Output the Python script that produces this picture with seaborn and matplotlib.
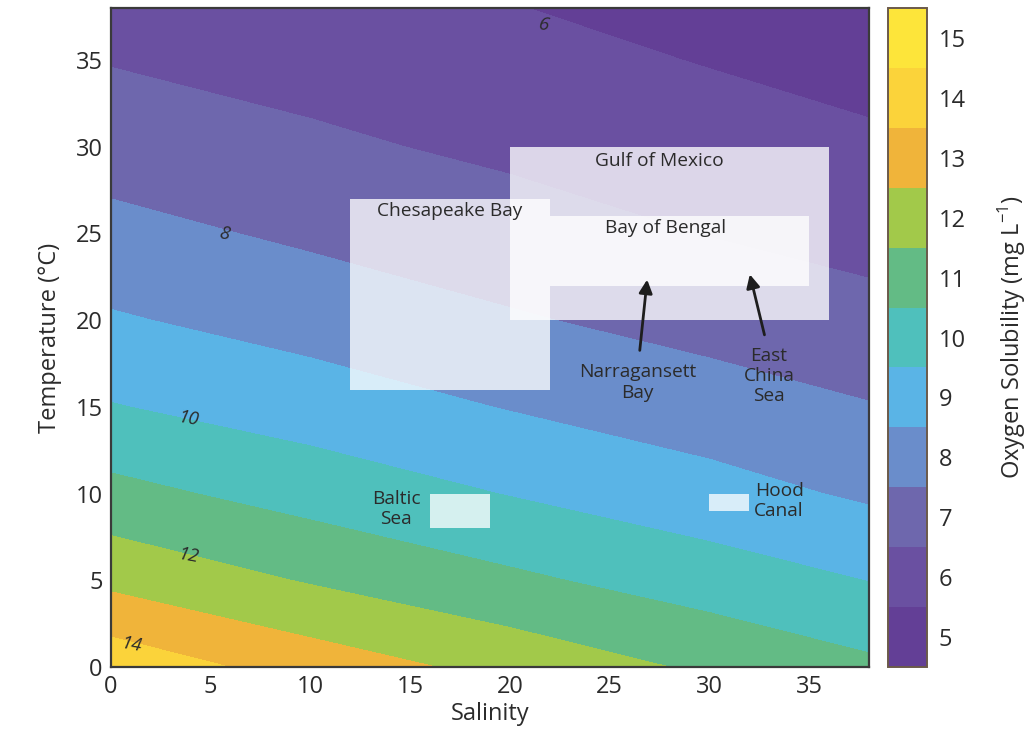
"""
Oxygen solubility vs salinity and temperature, with estuary / sea ranges.
"""
import numpy as np
import matplotlib
matplotlib.use('Agg')
import matplotlib.pyplot as plt
from matplotlib.colors import ListedColormap, BoundaryNorm
from matplotlib.patches import Rectangle
import seaborn as sns

# grid (mg/L)
salinity = [0, 10, 20, 30, 38]
temperature = [0, 5, 10, 15, 20, 25, 30, 35, 38]
solubility = [
    [14.65, 13.55, 12.68, 11.83, 11.20],
    [12.75, 11.92, 11.19, 10.51, 9.98],
    [11.30, 10.60, 9.96, 9.37, 8.85],
    [10.05, 9.51, 8.95, 8.44, 8.05],
    [9.10, 8.61, 8.10, 7.66, 7.30],
    [8.30, 7.83, 7.41, 6.97, 6.68],
    [7.55, 7.17, 6.81, 6.46, 6.15],
    [6.95, 6.65, 6.32, 5.95, 5.70],
    [6.60, 6.37, 6.03, 5.70, 5.45],
]
levels = list(range(5, 17))
band_colors = ['#633f96', '#6a50a1', '#6e67ad', '#6a8dcb', '#5ab4e6', '#4fc0bc',
               '#63bb85', '#a2c94a', '#f0b43a', '#fbd33a', '#fde53a']
cbar_labels = [str(v) for v in range(5, 16)]

# contour labels
clabel_text = ['6', '8', '10', '12', '14']
clabel_sal = [21.7, 5.7, 3.9, 3.9, 1.0]
clabel_temp = [37.0, 25.0, 14.3, 6.4, 1.3]

# regions (salinity range, temperature range)
region_names = ['Chesapeake Bay', 'Gulf of Mexico', 'Bay of Bengal', 'Baltic Sea', 'Hood Canal']
region_sal = [(12, 22), (20, 36), (22, 35), (16, 19), (30, 32)]
region_temp = [(16, 27), (20, 30), (22, 26), (8, 10), (9, 10)]

sns.set_theme(style='ticks')
plt.rcParams['font.family'] = ['Open Sans', 'DejaVu Sans']
plt.rcParams['mathtext.fontset'] = 'custom'
plt.rcParams['mathtext.rm'] = 'Open Sans'

text_col = '#2b2b2b'

fig = plt.figure(figsize=(10.27, 7.33), dpi=100)
ax = fig.add_axes([0.108, 0.090, 0.738, 0.899])
cax = fig.add_axes([0.865, 0.090, 0.038, 0.899])

cmap = ListedColormap(band_colors)
norm = BoundaryNorm(levels, cmap.N)
S, T = np.meshgrid(salinity, temperature)
cs = ax.contourf(S, T, np.array(solubility), levels=levels, cmap=cmap, norm=norm)

# region boxes
for name, (s0, s1), (t0, t1) in zip(region_names, region_sal, region_temp):
    ax.add_patch(Rectangle((s0, t0), s1 - s0, t1 - t0, facecolor='white',
                           edgecolor='none', alpha=0.77, zorder=3))

lab_kw = dict(fontsize=13.8, color=text_col, zorder=5)
ax.text(17.0, 26.3, 'Chesapeake Bay', ha='center', va='center', **lab_kw)
ax.text(27.5, 29.2, 'Gulf of Mexico', ha='center', va='center', **lab_kw)
ax.text(27.8, 25.3, 'Bay of Bengal', ha='center', va='center', **lab_kw)
ax.text(14.3, 9.1, 'Baltic\nSea', ha='center', va='center', linespacing=1.15, **lab_kw)
ax.text(33.5, 9.6, 'Hood\nCanal', ha='center', va='center', linespacing=1.15, **lab_kw)
ax.text(26.4, 16.4, 'Narragansett\nBay', ha='center', va='center', linespacing=1.2, **lab_kw)
ax.text(33.0, 16.8, 'East\nChina\nSea', ha='center', va='center', linespacing=1.15, **lab_kw)

arrow_kw = dict(arrowstyle='-|>', color='#1e1e1e', lw=2.0, mutation_scale=20)
ax.annotate('', xy=(26.9, 22.5), xytext=(26.5, 18.1), arrowprops=arrow_kw, zorder=6)
ax.annotate('', xy=(32.0, 22.8), xytext=(32.8, 19.0), arrowprops=arrow_kw, zorder=6)

for txt, s, t in zip(clabel_text, clabel_sal, clabel_temp):
    ax.text(s, t, txt, fontsize=13.5, style='italic', color=text_col,
            ha='center', va='center', rotation=-10, zorder=4)

ax.set_xlim(0, 38)
ax.set_ylim(0, 38)
ax.set_xticks(range(0, 40, 5))
ax.set_yticks(range(0, 40, 5))
ax.tick_params(direction='in', top=True, right=True, length=6, width=1.2,
               labelsize=17, colors='#333333', labelcolor=text_col, pad=6)
ax.set_xlabel('Salinity', fontsize=17, color=text_col, labelpad=2)
ax.set_ylabel('Temperature (°C)', fontsize=17, color=text_col, labelpad=10)
for sp in ax.spines.values():
    sp.set_linewidth(1.6)
    sp.set_color('#3a3a3a')

cbar = fig.colorbar(cs, cax=cax)
cbar.minorticks_off()
cbar.set_ticks([v + 0.5 for v in range(5, 16)])
cbar.set_ticklabels(cbar_labels)
cbar.ax.tick_params(which='major', direction='in', length=5, width=1.2, labelsize=17,
                    colors='#333333', labelcolor=text_col, pad=8)
cbar.ax.tick_params(which='minor', length=0)
cbar.ax.tick_params(axis='x', length=0)
cbar.outline.set_linewidth(1.4)
cbar.outline.set_edgecolor('#6b5a4a')
cbar.set_label('Oxygen Solubility (mg L$^{\\mathregular{-1}}$)', fontsize=17,
               color=text_col, labelpad=22)

plt.savefig('out.png', dpi=100)
plt.close()
